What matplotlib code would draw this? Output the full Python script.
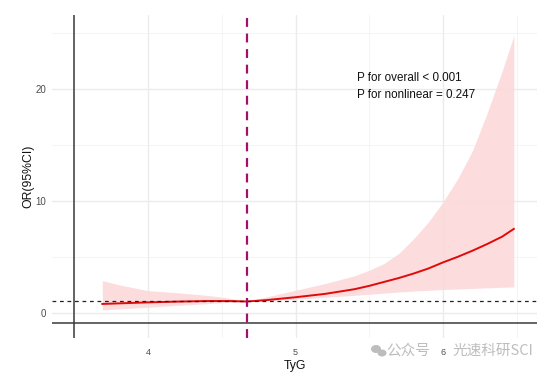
import numpy as np
import matplotlib.pyplot as plt
from matplotlib.ticker import MultipleLocator
from matplotlib.patches import Ellipse

# values
tyg      = [3.69, 3.80, 4.00, 4.20, 4.40, 4.55, 4.67, 4.80, 5.00, 5.20, 5.40, 5.50, 5.60,
            5.70, 5.80, 5.90, 6.00, 6.10, 6.20, 6.30, 6.40, 6.48]
or_est   = [0.78, 0.83, 0.92, 0.99, 1.04, 1.04, 1.00, 1.12, 1.38, 1.68, 2.10, 2.40, 2.75,
            3.10, 3.50, 3.95, 4.50, 5.00, 5.55, 6.15, 6.80, 7.50]
ci_upper = [2.87, 2.50, 1.97, 1.78, 1.55, 1.30, 1.00, 1.40, 2.00, 2.60, 3.30, 3.80, 4.40,
            5.30, 6.60, 8.10, 9.90, 12.0, 14.5, 17.9, 21.6, 24.8]
ci_lower = [0.24, 0.33, 0.48, 0.65, 0.80, 0.92, 1.00, 1.07, 1.20, 1.38, 1.55, 1.65, 1.75,
            1.85, 1.93, 2.00, 2.07, 2.12, 2.17, 2.22, 2.27, 2.30]

cutoff = 4.67
ref_or = 1
x_ticks = [4, 5, 6]
y_ticks = [0, 10, 20]
annot = ["P for overall < 0.001", "P for nonlinear = 0.247"]

plt.rcParams["font.family"] = ["Liberation Sans", "DejaVu Sans"]

W, H = 558, 373
fig = plt.figure(figsize=(W / 100, H / 100), dpi=100)
ax = fig.add_axes([52 / W, 35 / H, 485 / W, 323 / H])

ax.set_xlim(3.349, 6.637)
ax.set_ylim(-2.27, 26.65)

# theme_minimal style grid
ax.xaxis.set_major_locator(MultipleLocator(1))
ax.xaxis.set_minor_locator(MultipleLocator(0.5))
ax.yaxis.set_major_locator(MultipleLocator(10))
ax.yaxis.set_minor_locator(MultipleLocator(5))
ax.grid(which="major", color="#EBEBEB", lw=1.0)
ax.grid(which="minor", color="#F2F2F2", lw=0.6)
ax.set_axisbelow(True)
for s in ax.spines.values():
    s.set_visible(False)
ax.tick_params(which="both", length=0)
ax.tick_params(axis="y", labelsize=7, labelcolor="#4D4D4D", pad=4)
ax.tick_params(axis="x", labelsize=6.5, labelcolor="#4D4D4D", pad=7)
ax.set_xticks(x_ticks)
ax.set_yticks(y_ticks)

# reference lines
ax.axvline(3.5, color="#3A3A3A", lw=1.1, zorder=1)
ax.axhline(-0.95, color="#3A3A3A", lw=1.1, zorder=1)

ax.fill_between(tyg, ci_lower, ci_upper, color="#FCD9DA", alpha=0.9, lw=0, zorder=2)
ax.plot(tyg, or_est, color="#E00A0A", lw=1.4, zorder=3)

ax.axhline(ref_or, color="#222222", lw=0.9, ls=(0, (3, 3)), zorder=4)
ax.axvline(cutoff, color="#A3106B", lw=1.6, ls=(0, (4, 3)), zorder=4)

ax.text(5.42, 20.7, annot[0], fontsize=8.4, color="#111111")
ax.text(5.42, 19.2, annot[1], fontsize=8.4, color="#111111", va="baseline")

ax.set_xlabel("TyG", fontsize=8.8, color="#111111", labelpad=2)
ax.set_ylabel("OR(95%CI)", fontsize=8.8, color="#111111", labelpad=1)

# watermark
wm = "#BDBDBD"
fig.add_artist(Ellipse((376 / W, 1 - 349 / H), 10 / W, 8 / H, color=wm, lw=0))
fig.add_artist(Ellipse((382 / W, 1 - 353 / H), 9 / W, 7 / H, color=wm, lw=0))
fig.text(386 / W, 1 - 351 / H, "公众号", fontsize=10.5, color=wm,
         va="center", family=["Noto Sans CJK SC", "DejaVu Sans"])
fig.text(452 / W, 1 - 351 / H, "光速科研SCI", fontsize=10.5, color=wm,
         va="center", family=["Noto Sans CJK SC", "DejaVu Sans"])

fig.savefig("out.png", dpi=100)
